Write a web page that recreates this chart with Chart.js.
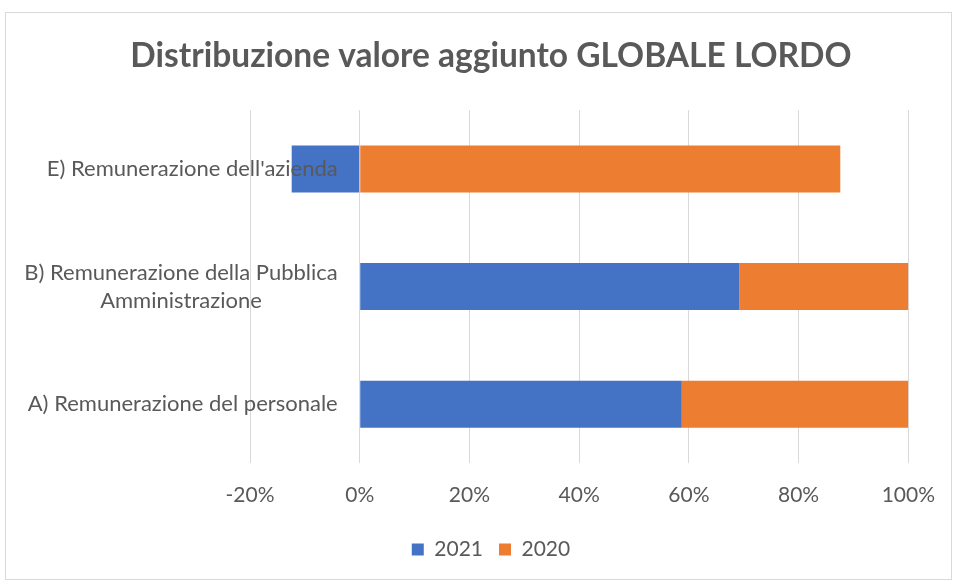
<!DOCTYPE html>
<html>
<head>
<meta charset="utf-8">
<script src="https://cdn.jsdelivr.net/npm/chart.js@4"></script>
<style>
html,body{margin:0;padding:0;background:#fff;}
#wrap{width:955px;height:580px;position:relative;}
</style>
</head>
<body>
<div id="wrap"><canvas id="c" width="955" height="580"></canvas></div>
<script>
const categories = [
  "E) Remunerazione dell'azienda",
  ["B) Remunerazione della Pubblica", "Amministrazione"],
  "A) Remunerazione del personale"
];
const series2021 = [-12.4, 69.2, 58.7];
const series2020 = [87.6, 30.8, 41.3];
const seriesNames = ["2021", "2020"];
const xTicks = [-20, 0, 20, 40, 60, 80, 100];

const textColor = '#595959';
const fontFamily = 'Lato, "Open Sans", sans-serif';
const labelFontSize = 21;
const categoryFontSize = 22;

const borderPlugin = {
  id: 'outerBorder',
  beforeDraw(chart) {
    const ctx = chart.ctx;
    ctx.save();
    ctx.fillStyle = '#ffffff';
    ctx.fillRect(0, 0, chart.width, chart.height);
    ctx.strokeStyle = '#d9d9d9';
    ctx.lineWidth = 1;
    ctx.strokeRect(5.5, 12.5, 946, 567);
    ctx.restore();
  }
};

// Category labels drawn next to the value axis' zero line (as Excel does), on top of the bars
const categoryLabelPlugin = {
  id: 'categoryLabels',
  afterDatasetsDraw(chart) {
    const ctx = chart.ctx;
    const xs = chart.scales.x, ys = chart.scales.y;
    const anchor = xs.getPixelForValue(0) - 22;
    const lineH = 28;
    ctx.save();
    ctx.font = categoryFontSize + 'px ' + fontFamily;
    ctx.fillStyle = textColor;
    ctx.textAlign = 'center';
    ctx.textBaseline = 'middle';
    chart.data.labels.forEach((lab, i) => {
      const lines = Array.isArray(lab) ? lab : [lab];
      const maxW = Math.max(...lines.map(l => ctx.measureText(l).width));
      const cx = anchor - maxW / 2;
      const cy = ys.getPixelForValue(i);
      const y0 = cy - (lines.length - 1) * lineH / 2;
      lines.forEach((l, k) => ctx.fillText(l, cx, y0 + k * lineH));
    });
    ctx.restore();
  }
};

new Chart(document.getElementById('c'), {
  type: 'bar',
  data: {
    labels: categories,
    datasets: [
      { label: seriesNames[0], data: series2021, backgroundColor: '#4472C4', borderWidth: 0 },
      { label: seriesNames[1], data: series2020, backgroundColor: '#ED7D31', borderWidth: 0 }
    ]
  },
  options: {
    indexAxis: 'y',
    responsive: false,
    animation: false,
    devicePixelRatio: 1,
    layout: { padding: { left: 70, right: 43, top: 12, bottom: 10 } },
    datasets: { bar: { barPercentage: 0.4, categoryPercentage: 1.0 } },
    scales: {
      x: {
        stacked: true,
        min: xTicks[0],
        max: xTicks[xTicks.length - 1],
        afterBuildTicks(scale) { scale.ticks = xTicks.map(v => ({ value: v })); },
        afterFit(scale) { scale.height = 60; },
        grid: { color: '#d9d9d9', lineWidth: 1, drawTicks: false },
        border: { display: false },
        ticks: {
          padding: 20,
          color: textColor,
          font: { family: fontFamily, size: labelFontSize },
          callback: v => v + '%'
        }
      },
      y: {
        stacked: true,
        afterFit(scale) { scale.width = 180; },
        grid: { display: false, drawTicks: false },
        border: { display: false },
        ticks: { display: false }
      }
    },
    plugins: {
      title: {
        display: true,
        text: 'Distribuzione valore aggiunto GLOBALE LORDO',
        color: textColor,
        font: { family: fontFamily, size: 33.5, weight: 'bold' },
        padding: { top: 24, bottom: 34 }
      },
      legend: {
        position: 'bottom',
        labels: {
          boxWidth: 12,
          boxHeight: 12,
          padding: 16,
          color: textColor,
          font: { family: fontFamily, size: labelFontSize }
        }
      },
      tooltip: { enabled: false }
    }
  },
  plugins: [borderPlugin, categoryLabelPlugin]
});
</script>
</body>
</html>
